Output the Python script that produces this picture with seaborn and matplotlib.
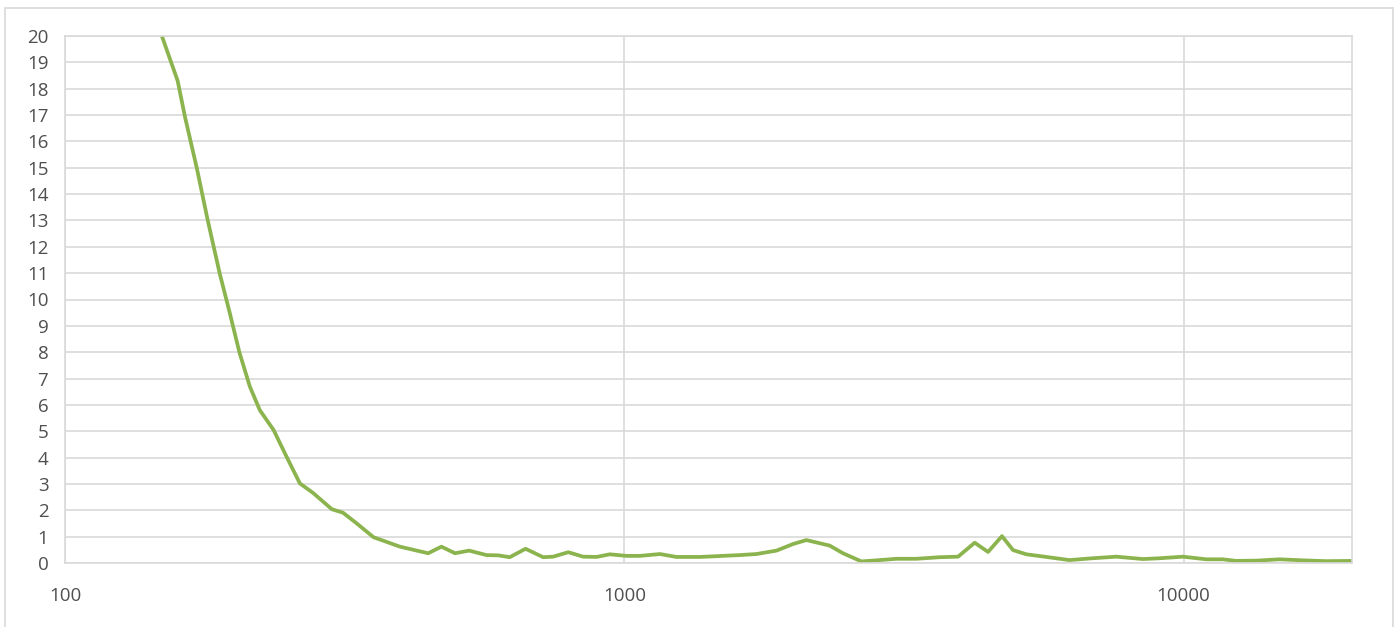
import matplotlib
matplotlib.use("Agg")
import matplotlib.pyplot as plt
from matplotlib.patches import Rectangle
from matplotlib.ticker import FixedLocator, NullLocator, FixedFormatter
import seaborn as sns
import pandas as pd

# Frequency (Hz) and measured level
freq = [149, 159, 164, 172, 180, 189, 197, 205, 214, 223, 236, 249, 263, 278,
        300, 314, 332, 356, 397, 446, 471, 498, 528, 567, 595, 624, 666, 716,
        746, 794, 844, 892, 942, 1009, 1066, 1158, 1239, 1365, 1608, 1722,
        1871, 2003, 2116, 2205, 2329, 2460, 2654, 2862, 3065, 3326, 3664,
        3951, 4231, 4470, 4734, 4954, 5235, 5682, 6250, 6871, 7580, 8460,
        9057, 9970, 10980, 11750, 12420, 13490, 14850, 16340, 17990, 20000]
level = [20.0, 18.3, 16.9, 15.0, 13.0, 11.0, 9.5, 8.0, 6.7, 5.8, 5.05, 4.03,
         3.02, 2.65, 2.04, 1.91, 1.51, 0.98, 0.62, 0.37, 0.62, 0.37, 0.47,
         0.30, 0.29, 0.22, 0.54, 0.22, 0.24, 0.41, 0.24, 0.23, 0.33, 0.27,
         0.27, 0.34, 0.23, 0.23, 0.30, 0.34, 0.47, 0.72, 0.87, 0.78, 0.66,
         0.37, 0.06, 0.11, 0.16, 0.16, 0.22, 0.24, 0.77, 0.42, 1.02, 0.49,
         0.33, 0.23, 0.11, 0.18, 0.24, 0.15, 0.18, 0.24, 0.14, 0.14, 0.08,
         0.09, 0.14, 0.10, 0.07, 0.08]

x_ticks = [100, 1000, 10000]
x_tick_labels = ["100", "1000", "10000"]
y_ticks = list(range(0, 21))

df = pd.DataFrame({"freq": freq, "level": level})

sns.set_theme(style="whitegrid")
plt.rcParams["font.family"] = ["Open Sans", "DejaVu Sans"]

grid_col = "#d9d9d9"
text_col = "#4f4f4f"
line_col = "#8cb44e"

fig = plt.figure(figsize=(13.99, 6.27), dpi=100)
ax = fig.add_axes([65 / 1399, (627 - 563) / 627, 1287 / 1399, 527 / 627])

sns.lineplot(data=df, x="freq", y="level", ax=ax, color=line_col,
             linewidth=2.7, estimator=None, sort=False)
for ln in ax.lines:
    ln.set_solid_joinstyle("round")
    ln.set_solid_capstyle("round")

ax.set_xscale("log")
ax.set_xlim(100, 20000)
ax.set_ylim(0, 20)
ax.xaxis.set_major_locator(FixedLocator(x_ticks))
ax.xaxis.set_major_formatter(FixedFormatter(x_tick_labels))
ax.xaxis.set_minor_locator(NullLocator())
ax.set_yticks(y_ticks)
ax.set_xlabel("")
ax.set_ylabel("")

ax.grid(True, color=grid_col, linewidth=1.2)
for s in ax.spines.values():
    s.set_visible(True)
    s.set_color(grid_col)
    s.set_linewidth(1.2)

ax.tick_params(axis="y", length=0, pad=12, labelsize=13.5, labelcolor=text_col)
ax.tick_params(axis="x", length=0, pad=17, labelsize=13.5, labelcolor=text_col)

# light frame around the chart, open at the bottom edge of the image
fig.patches.append(Rectangle((5 / 1399, -0.02), 1388 / 1399, 1 - 8 / 627 + 0.02,
                             transform=fig.transFigure, fill=False,
                             edgecolor=grid_col, linewidth=1.2))

fig.savefig("out.png", dpi=100, facecolor="white")
